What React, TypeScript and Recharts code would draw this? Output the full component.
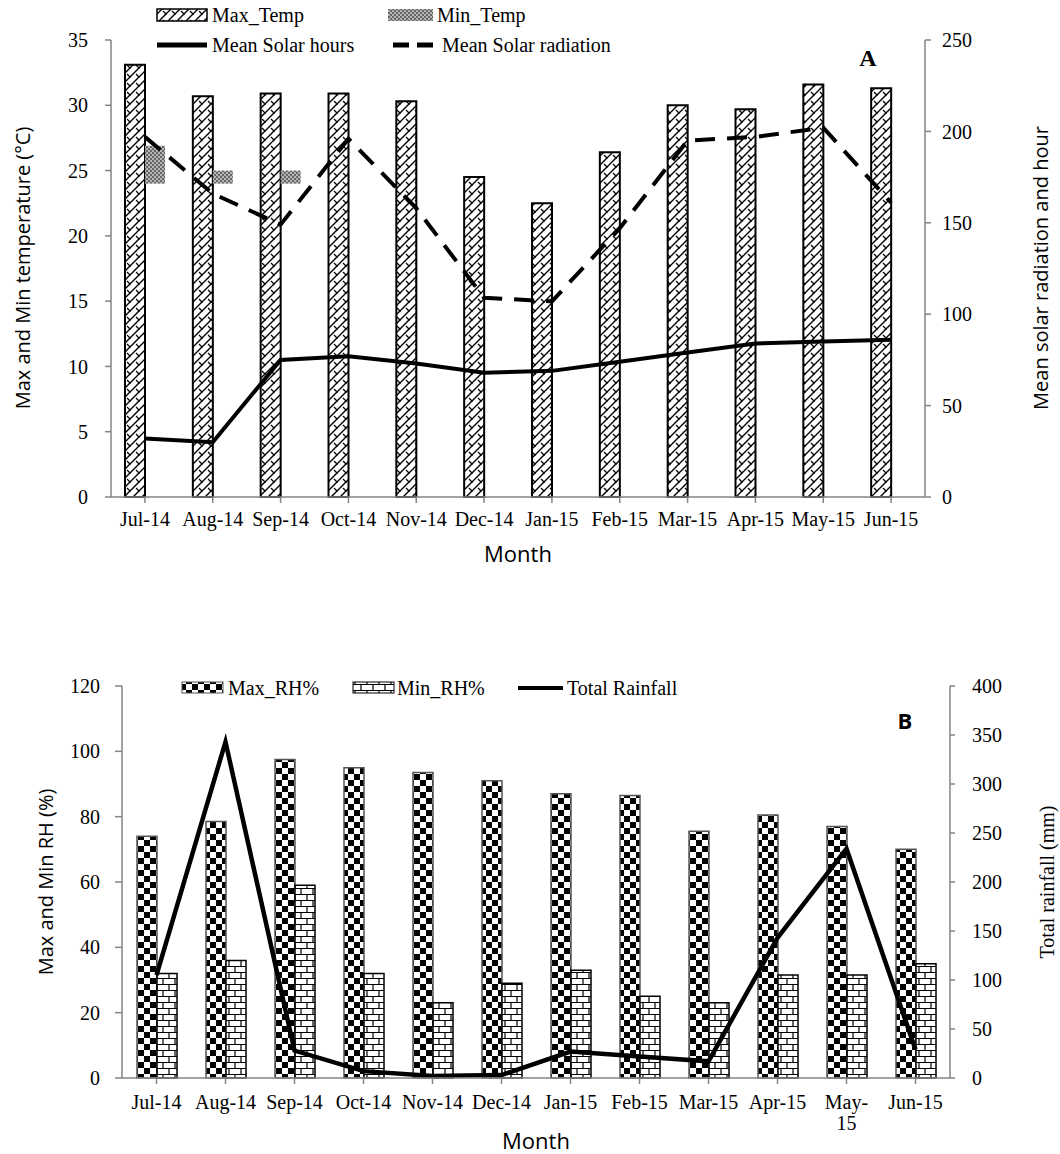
import React from 'react';
import { ComposedChart, Bar, Line, XAxis, YAxis, Legend, Label } from 'recharts';

// months shared by both panels
const months = ['Jul-14', 'Aug-14', 'Sep-14', 'Oct-14', 'Nov-14', 'Dec-14', 'Jan-15', 'Feb-15', 'Mar-15', 'Apr-15', 'May-15', 'Jun-15'];

// panel A
const maxTemp = [33.1, 30.7, 30.9, 30.9, 30.3, 24.5, 22.5, 26.4, 30.0, 29.7, 31.6, 31.3];
const minTempLow = [24.0, 24.0, 24.0, null, null, null, null, null, null, null, null, null];
const minTempHigh = [26.9, 25.0, 25.0, null, null, null, null, null, null, null, null, null];
const solarHours = [32, 30, 75, 77, 73, 68, 69, 74, 79, 84, 85, 86];
const solarRadiation = [197, 166, 149, 196, 158, 109, 107, 147, 195, 197, 202, 161];
const tempTicks = [0, 5, 10, 15, 20, 25, 30, 35];
const solarTicks = [0, 50, 100, 150, 200, 250];

// panel B
const maxRH = [74, 78.5, 97.5, 95, 93.5, 91, 87, 86.5, 75.5, 80.5, 77, 70];
const minRH = [32, 36, 59, 32, 23, 29, 33, 25, 23, 31.5, 31.5, 35];
const rainfall = [105, 343, 28, 7, 2, 3, 27, 22, 17, 143, 234, 29];
const rhTicks = [0, 20, 40, 60, 80, 100, 120];
const rainTicks = [0, 50, 100, 150, 200, 250, 300, 350, 400];

const dataA = months.map((m, i) => ({
  month: m,
  maxTemp: maxTemp[i],
  minTemp: minTempLow[i] == null ? null : [minTempLow[i], minTempHigh[i]],
  solarHours: solarHours[i],
  solarRadiation: solarRadiation[i],
}));

const dataB = months.map((m, i) => ({
  month: m,
  maxRH: maxRH[i],
  minRH: minRH[i],
  rainfall: rainfall[i],
}));

const SERIF = 'Liberation Serif, Times New Roman, serif';
const SANS = 'Open Sans, sans-serif';
const AXIS = '#858585';

const tickStyle = { fill: '#000', fontSize: 20, fontFamily: SERIF };

const Patterns = () => (
  <defs>
    <pattern id="hatchMax" patternUnits="userSpaceOnUse" width="9" height="9">
      <rect width="9" height="9" fill="#fff" />
      <path d="M0,9 L9,0 M-2,2 L2,-2 M7,11 L11,7" stroke="#000" strokeWidth="1.4" />
      <path d="M1,2 L4.5,5.5" stroke="#000" strokeWidth="1.3" />
    </pattern>
    <pattern id="dotMin" patternUnits="userSpaceOnUse" width="4" height="4">
      <rect width="4" height="4" fill="#b5b5b5" />
      <rect width="2" height="2" fill="#676767" />
      <rect x="2" y="2" width="2" height="2" fill="#676767" />
    </pattern>
    <pattern id="checker" patternUnits="userSpaceOnUse" width="12" height="12">
      <rect width="12" height="12" fill="#fff" />
      <rect width="6" height="6" fill="#000" />
      <rect x="6" y="6" width="6" height="6" fill="#000" />
    </pattern>
    <pattern id="brick" patternUnits="userSpaceOnUse" width="12" height="12">
      <rect width="12" height="12" fill="#fff" />
      <path d="M0,0.5 H12 M0,6.5 H12 M1,0 V6 M7,6 V12" stroke="#000" strokeWidth="1.2" />
    </pattern>
  </defs>
);

const legendText = { fontFamily: SERIF, fontSize: 20, fill: '#000' };

const LegendA = () => (
  <svg width={1060} height={75} style={{ display: 'block' }}>
    <rect x={157} y={9} width={50} height={12} fill="url(#hatchMax)" stroke="#000" strokeWidth={1.5} />
    <text x={212} y={22} {...legendText}>Max_Temp</text>
    <rect x={388} y={9} width={45} height={12} fill="url(#dotMin)" />
    <text x={437} y={22} {...legendText}>Min_Temp</text>
    <line x1={157} x2={207} y1={45} y2={45} stroke="#000" strokeWidth={5} />
    <text x={212} y={52} {...legendText}>Mean Solar hours</text>
    <line x1={393} x2={433} y1={45} y2={45} stroke="#000" strokeWidth={5} strokeDasharray="16 8" />
    <text x={442} y={52} {...legendText}>Mean Solar radiation</text>
    <text x={868} y={66} textAnchor="middle" fontFamily={SERIF} fontWeight="bold" fontSize={24}>A</text>
  </svg>
);

const LegendB = () => (
  <svg width={1060} height={140} style={{ display: 'block' }}>
    <rect x={182} y={82} width={41} height={11} fill="url(#checker)" stroke="#555" strokeWidth={1} />
    <text x={228} y={95} {...legendText}>Max_RH%</text>
    <rect x={353} y={82} width={41} height={11} fill="url(#brick)" stroke="#000" strokeWidth={1} />
    <text x={397} y={95} {...legendText}>Min_RH%</text>
    <line x1={518} x2={563} y1={88} y2={88} stroke="#000" strokeWidth={4} />
    <text x={567} y={95} {...legendText}>Total Rainfall</text>
    <text x={905} y={129} textAnchor="middle" fontFamily={SANS} fontWeight="bold" fontSize={22}>B</text>
  </svg>
);

const wrapped: Record<string, string[]> = { 'May-15': ['May-', '15'] };

const TickB = (props: any) => {
  const { x, y, payload } = props;
  const lines = wrapped[payload.value] || [payload.value];
  return (
    <text x={x} y={y} textAnchor="middle" {...tickStyle}>
      {lines.map((l, i) => (
        <tspan key={i} x={x} dy={i === 0 ? '0.71em' : '1.05em'}>{l}</tspan>
      ))}
    </text>
  );
};

const vTitle = (x: number, y: number, text: string, family: string, size: number) => () => (
  <text
    x={x}
    y={y}
    transform={`rotate(-90, ${x}, ${y})`}
    textAnchor="middle"
    dominantBaseline="central"
    fontFamily={family}
    fontSize={size}
    fill="#000"
  >
    {text}
  </text>
);

const hTitle = (x: number, y: number, text: string) => () => (
  <text x={x} y={y} textAnchor="middle" dominantBaseline="central" fontFamily={SANS} fontSize={22} fill="#000">
    {text}
  </text>
);

export default function App() {
  return (
    <div style={{ position: 'absolute', left: 0, top: 0, width: 1060, height: 1154, background: '#fff' }}>
      <div style={{ position: 'absolute', left: 0, top: 0 }}>
        <ComposedChart
          width={1060}
          height={580}
          data={dataA}
          margin={{ top: 40, right: 75, bottom: 23, left: 51 }}
          barGap={0}
        >
          <Patterns />
          <XAxis
            dataKey="month"
            height={60}
            interval={0}
            tick={tickStyle}
            tickSize={6}
            tickMargin={9}
            axisLine={{ stroke: AXIS, strokeWidth: 1.5 }}
            tickLine={{ stroke: AXIS, strokeWidth: 1.5 }}
          >
            <Label content={hTitle(518, 553, 'Month')} />
          </XAxis>
          <YAxis
            yAxisId="left"
            width={60}
            domain={[0, 35]}
            ticks={tempTicks}
            tick={tickStyle}
            tickSize={6}
            tickMargin={17}
            axisLine={{ stroke: AXIS, strokeWidth: 1.5 }}
            tickLine={{ stroke: AXIS, strokeWidth: 1.5 }}
          >
            <Label content={vTitle(22, 268, 'Max and Min temperature (°C)', SANS, 20)} />
          </YAxis>
          <YAxis
            yAxisId="right"
            orientation="right"
            width={60}
            domain={[0, 250]}
            ticks={solarTicks}
            tick={{ ...tickStyle, textAnchor: 'start' }}
            tickSize={6}
            tickMargin={11}
            axisLine={{ stroke: AXIS, strokeWidth: 1.5 }}
            tickLine={{ stroke: AXIS, strokeWidth: 1.5 }}
          >
            <Label content={vTitle(1040, 268, 'Mean solar radiation and hour', SANS, 20)} />
          </YAxis>
          <Legend
            layout="horizontal"
            verticalAlign="middle"
            align="center"
            wrapperStyle={{ left: 0, top: 0, width: 1060, height: 75 }}
            content={() => <LegendA />}
          />
          <Bar yAxisId="left" dataKey="maxTemp" name="Max_Temp" barSize={20} fill="url(#hatchMax)" stroke="#000" strokeWidth={2} isAnimationActive={false} />
          <Bar yAxisId="left" dataKey="minTemp" name="Min_Temp" barSize={20} fill="url(#dotMin)" isAnimationActive={false} />
          <Line yAxisId="right" type="linear" dataKey="solarHours" name="Mean Solar hours" stroke="#000" strokeWidth={4} dot={false} isAnimationActive={false} />
          <Line yAxisId="right" type="linear" dataKey="solarRadiation" name="Mean Solar radiation" stroke="#000" strokeWidth={4} strokeDasharray="20 12" dot={false} isAnimationActive={false} />
        </ComposedChart>
      </div>
      <div style={{ position: 'absolute', left: 0, top: 600 }}>
        <ComposedChart
          width={1060}
          height={554}
          data={dataB}
          margin={{ top: 86, right: 50, bottom: 16, left: 62 }}
          barGap={0}
        >
          <Patterns />
          <XAxis
            dataKey="month"
            height={60}
            interval={0}
            tick={<TickB />}
            tickSize={6}
            tickMargin={11}
            axisLine={{ stroke: AXIS, strokeWidth: 1.5 }}
            tickLine={{ stroke: AXIS, strokeWidth: 1.5 }}
          >
            <Label content={hTitle(536, 540, 'Month')} />
          </XAxis>
          <YAxis
            yAxisId="left"
            width={60}
            domain={[0, 120]}
            ticks={rhTicks}
            tick={tickStyle}
            tickSize={7}
            tickMargin={15}
            axisLine={{ stroke: AXIS, strokeWidth: 1.5 }}
            tickLine={{ stroke: AXIS, strokeWidth: 1.5 }}
          >
            <Label content={vTitle(45, 282, 'Max and Min RH (%)', SANS, 20)} />
          </YAxis>
          <YAxis
            yAxisId="right"
            orientation="right"
            width={60}
            domain={[0, 400]}
            ticks={rainTicks}
            tick={{ ...tickStyle, textAnchor: 'start' }}
            tickSize={5}
            tickMargin={17}
            axisLine={{ stroke: AXIS, strokeWidth: 1.5 }}
            tickLine={{ stroke: AXIS, strokeWidth: 1.5 }}
          >
            <Label content={vTitle(1047, 282, 'Total rainfall  (mm)', SERIF, 20)} />
          </YAxis>
          <Legend
            layout="horizontal"
            verticalAlign="middle"
            align="center"
            wrapperStyle={{ left: 0, top: 0, width: 1060, height: 140 }}
            content={() => <LegendB />}
          />
          <Bar yAxisId="left" dataKey="maxRH" name="Max_RH%" barSize={20} fill="url(#checker)" stroke="#555" strokeWidth={1.5} isAnimationActive={false} />
          <Bar yAxisId="left" dataKey="minRH" name="Min_RH%" barSize={20} fill="url(#brick)" stroke="#000" strokeWidth={1.5} isAnimationActive={false} />
          <Line yAxisId="right" type="linear" dataKey="rainfall" name="Total Rainfall" stroke="#000" strokeWidth={4.5} dot={false} isAnimationActive={false} />
        </ComposedChart>
      </div>
    </div>
  );
}
